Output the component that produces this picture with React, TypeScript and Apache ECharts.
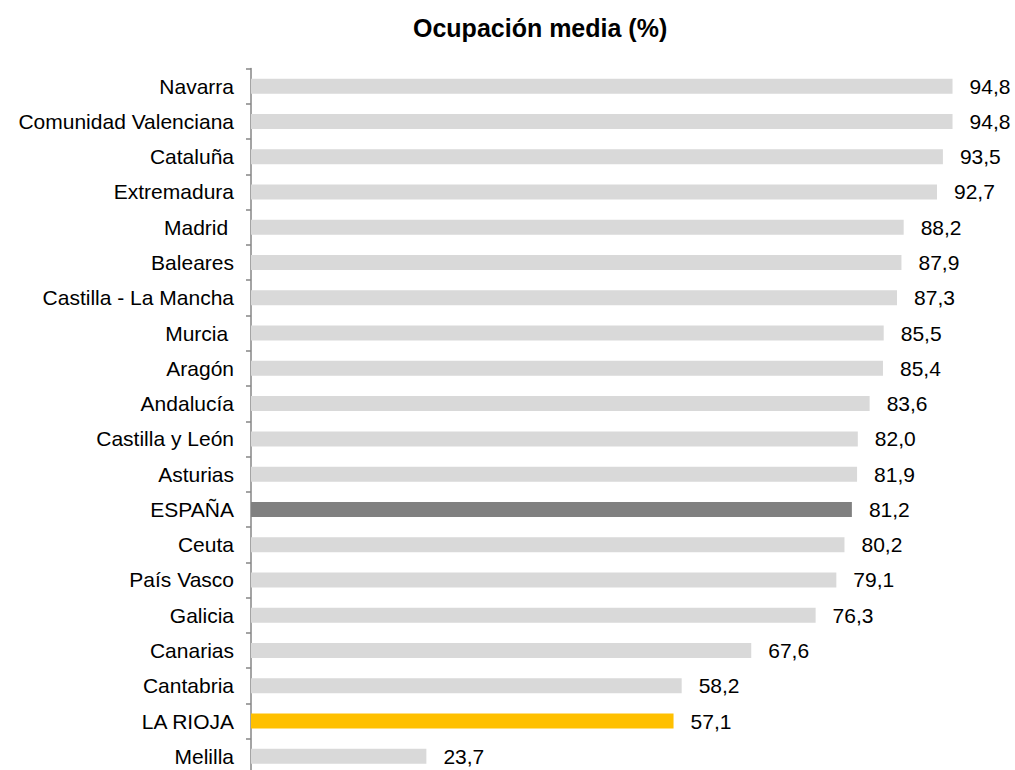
import React, { useEffect, useRef } from "react";
import * as echarts from "echarts";

const categories = [
  "Navarra",
  "Comunidad Valenciana",
  "Cataluña",
  "Extremadura",
  "Madrid ",
  "Baleares",
  "Castilla - La Mancha",
  "Murcia ",
  "Aragón",
  "Andalucía",
  "Castilla y León",
  "Asturias",
  "ESPAÑA",
  "Ceuta",
  "País Vasco",
  "Galicia",
  "Canarias",
  "Cantabria",
  "LA RIOJA",
  "Melilla",
];

const values = [
  94.8, 94.8, 93.5, 92.7, 88.2, 87.9, 87.3, 85.5, 85.4, 83.6, 82.0, 81.9, 81.2,
  80.2, 79.1, 76.3, 67.6, 58.2, 57.1, 23.7,
];

const highlightColors: Record<string, string> = {
  "ESPAÑA": "#808080",
  "LA RIOJA": "#FFC000",
};
const defaultColor = "#D9D9D9";

const titleText = "Ocupación media (%)";

export default function App() {
  const ref = useRef<HTMLDivElement>(null);

  useEffect(() => {
    if (!ref.current) return;
    const chart = echarts.init(ref.current, undefined, { renderer: "svg" });
    const font = "'Liberation Sans', Arial, sans-serif";
    chart.setOption({
      animation: false,
      backgroundColor: "#ffffff",
      title: {
        text: titleText,
        left: 408,
        top: 10,
        textStyle: {
          fontFamily: font,
          fontSize: 25,
          fontWeight: "bold",
          color: "#000000",
        },
      },
      grid: {
        left: 251,
        right: 24,
        top: 68.5,
        bottom: 0,
        containLabel: false,
      },
      xAxis: {
        type: "value",
        min: 0,
        max: 100,
        show: false,
      },
      yAxis: {
        type: "category",
        data: categories,
        inverse: true,
        axisLine: { show: true, lineStyle: { color: "#868686", width: 1.5 } },
        axisTick: { show: true, length: 5, lineStyle: { color: "#868686", width: 1.5 } },
        axisLabel: {
          margin: 17,
          fontFamily: font,
          fontSize: 21,
          color: "#000000",
        },
        splitLine: { show: false },
      },
      series: [
        {
          type: "bar",
          barWidth: 15,
          data: categories.map((c, i) => ({
            value: values[i],
            itemStyle: { color: highlightColors[c] || defaultColor },
          })),
          label: {
            show: true,
            position: "right",
            distance: 17,
            fontFamily: font,
            fontSize: 21,
            color: "#000000",
            formatter: (p: any) => Number(p.value).toFixed(1).replace(".", ","),
          },
        },
      ],
    });
    return () => chart.dispose();
  }, []);

  return (
    <div
      ref={ref}
      style={{ position: "absolute", left: 0, top: 0, width: 1015, height: 774 }}
    />
  );
}
